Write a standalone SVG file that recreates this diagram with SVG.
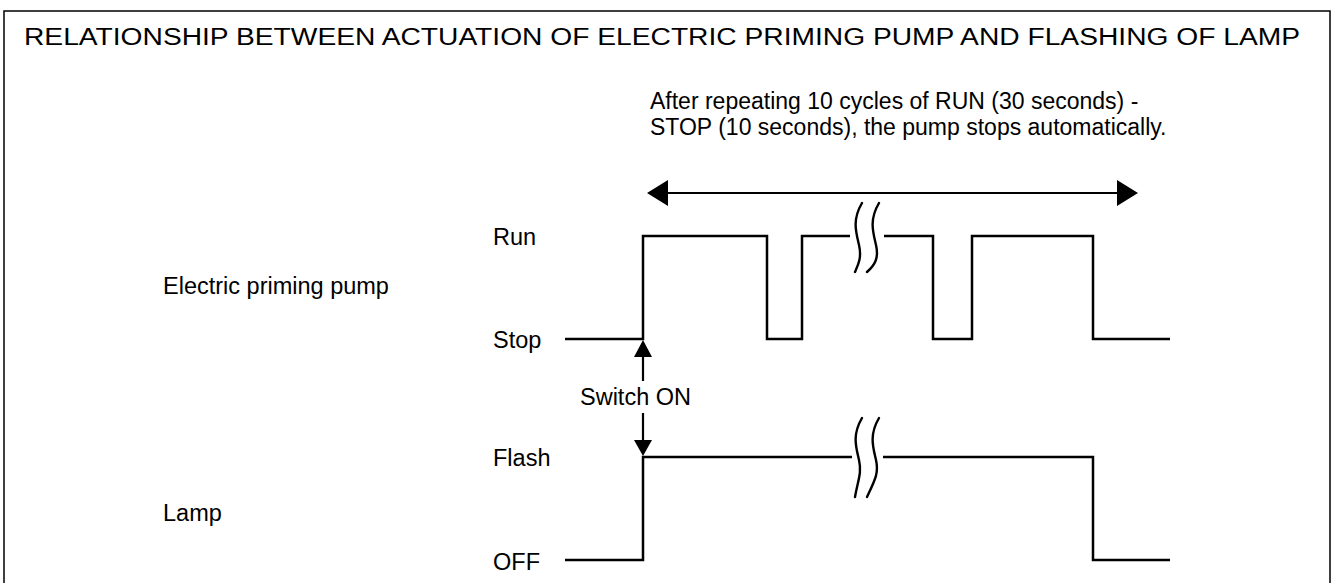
<svg xmlns="http://www.w3.org/2000/svg" width="1333" height="583" viewBox="0 0 1333 583">
<defs>
<style>
text{font-family:"Liberation Sans",Arial,sans-serif;fill:#000;font-size:23.5px}
.t{font-size:23px}
.n{font-size:23px}
.w{fill:none;stroke:#000;stroke-width:2.5}
.b{fill:none;stroke:#000;stroke-width:2.2}
.f{fill:none;stroke:#000;stroke-width:1.5}
.s{fill:none;stroke:#000;stroke-width:2.4;stroke-linecap:round}
</style>
</defs>
<rect width="1333" height="583" fill="#fff"/>
<g id="frame"><path class="f" d="M4,583V11H1330V583"/></g>
<g id="title"><text class="t" x="24" y="45" textLength="1276" lengthAdjust="spacingAndGlyphs">RELATIONSHIP BETWEEN ACTUATION OF ELECTRIC PRIMING PUMP AND FLASHING OF LAMP</text></g>
<g id="note"><text class="n" x="650" y="109">After repeating 10 cycles of RUN (30 seconds) -</text><text class="n" x="650" y="135">STOP (10 seconds), the pump stops automatically.</text></g>
<g id="labels">
<text x="493" y="245">Run</text>
<text x="163" y="294">Electric priming pump</text>
<text x="493" y="348">Stop</text>
<text x="493" y="466">Flash</text>
<text x="163" y="521">Lamp</text>
<text x="493" y="570">OFF</text>
<text x="580" y="405">Switch ON</text>
</g>
<g id="connectors">
<line x1="668" y1="193" x2="1117" y2="193" class="b"/>
<path d="M668,180L647,193L668,206z M1117,180L1138,193L1117,206z"/>
<path class="w" d="M565,339H643V236H767V339H802V236H850 M884,236H933V339H972V236H1093V339H1170"/>
<path class="s" d="M862,203C852,220 856,232 859,245C862,258 858,265 855,272 M879,203C869,220 873,232 876,245C879,258 875,265 867,272"/>
<path class="w" d="M565,560H643V457H852 M883,457H1093V560H1170"/>
<path class="s" d="M862,418C852,435 856,447 859,460C862,473 858,480 855,497 M879,418C869,435 873,447 876,460C879,473 875,480 867,497"/>
<line x1="643" y1="357" x2="643" y2="381" class="b"/>
<line x1="643" y1="413" x2="643" y2="440" class="b"/>
<path d="M634,357L643,340L652,357z M634,440L643,456L652,440z"/>
</g>
</svg>
